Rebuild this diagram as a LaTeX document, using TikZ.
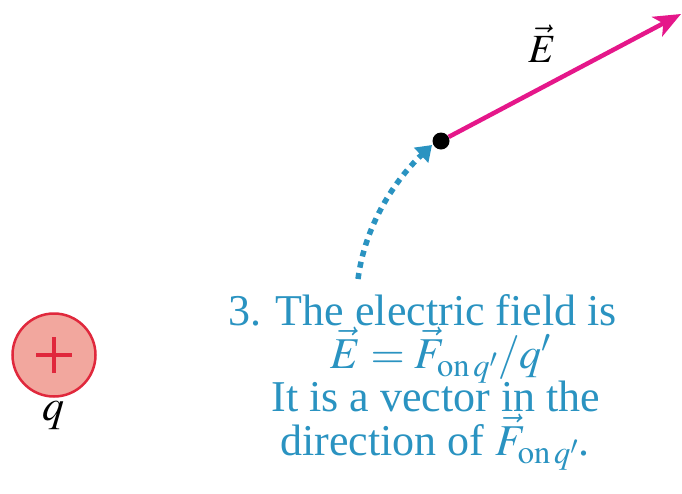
\documentclass[tikz,border=0pt]{standalone}
\usepackage{mathptmx}
\usepackage{fontspec}
\setmainfont{Liberation Serif}
\usetikzlibrary{arrows.meta}
\definecolor{fieldmag}{HTML}{E5178A}
\definecolor{txtblue}{HTML}{2A93C1}
\definecolor{chargefill}{HTML}{F2A79E}
\definecolor{chargeline}{HTML}{E0283C}
\tikzset{
  bigtxt/.style={font=\fontsize{44}{50}\selectfont, inner sep=0pt},
  captxt/.style={bigtxt, text=txtblue, anchor=base},
}
\begin{document}
\begin{tikzpicture}[x=1pt,y=-1pt]
\useasboundingbox (0,0) rectangle (682,493);
% charge
\node[circle, draw=chargeline, fill=chargefill, line width=2.5pt, minimum size=83pt, inner sep=0pt] (q) at (54,355) {};
\draw[chargeline, line width=4.5pt] ([xshift=-18pt]q.center) -- ([xshift=18pt]q.center)
      ([yshift=-18pt]q.center) -- ([yshift=18pt]q.center);
\node[bigtxt, anchor=base] (ql) at (53,420) {$q$};
% point and field vector
\node[circle, fill=black, inner sep=0pt, minimum size=17pt] (p) at (441,141) {};
\coordinate (tip) at (681,14);
\draw[fieldmag, line width=4.5pt, -{Stealth[length=27pt,width=22pt,inset=7pt]}] (p) -- (tip);
\node[font=\fontsize{40}{44}\selectfont, anchor=base] (El) at (542,62) {$\vec{E}$};
% dotted arrow
\coordinate (ds) at (358,279);
\coordinate (de) at (432,145);
\draw[txtblue, line width=5.5pt, dash pattern=on 6pt off 5.5pt, -{Triangle[length=15pt,width=20pt]}]
  (ds) .. controls (365,225) and (395,180) .. (de);
% caption
\node[captxt] (l1) at (422.5,325) {3. The electric field is};
\node[captxt] (l2) at (441,368) {$\vec{E} = \vec{F}_{\mathrm{on}\,q'}/q'$};
\node[captxt] (l3) at (436,411) {It is a vector in the};
\node[captxt] (l4) at (435,455) {direction of $\vec{F}_{\mathrm{on}\,q'}$.};
\end{tikzpicture}
\end{document}
